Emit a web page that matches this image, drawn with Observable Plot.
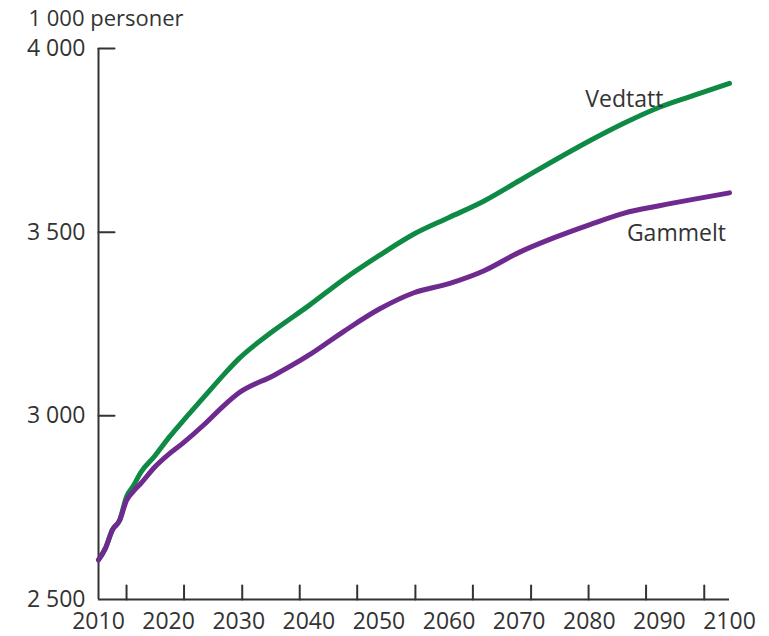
<!DOCTYPE html>
<html>
<head>
<meta charset="utf-8">
<script src="https://cdn.jsdelivr.net/npm/d3@7"></script>
<script src="https://cdn.jsdelivr.net/npm/@observablehq/plot@0.6"></script>
<style>
  html, body { margin: 0; padding: 0; background: #fff; }
  #chart svg { display: block; }
</style>
</head>
<body>
<div id="chart"></div>
<script>
const years    = [2010, 2011, 2012, 2013, 2014, 2015, 2016, 2018, 2020, 2022, 2025, 2028, 2030, 2035, 2040, 2045, 2050, 2055, 2060, 2065, 2070, 2075, 2080, 2085, 2090, 2095, 2100];
const vedtatt  = [2608, 2640, 2690, 2715, 2780, 2810, 2845, 2890, 2940, 2985, 3050, 3115, 3155, 3232, 3300, 3372, 3436, 3495, 3540, 3585, 3640, 3695, 3748, 3797, 3840, 3873, 3905];
const gammelt  = [2608, 2640, 2690, 2715, 2770, 2795, 2815, 2860, 2895, 2925, 2975, 3030, 3062, 3110, 3165, 3230, 3290, 3335, 3360, 3395, 3445, 3485, 3520, 3552, 3572, 3590, 3607];
const seriesNames = ["Vedtatt", "Gammelt"];
const seriesColors = ["#0f8a45", "#6f2a8f"];
const yTicks = [2500, 3000, 3500, 4000];
const yTickMarks = [3000, 3500, 4000];
const xLabels = [2010, 2020, 2030, 2040, 2050, 2060, 2070, 2080, 2090, 2100];
const xTickMarks = [2014.0, 2022.2, 2030.5, 2038.7, 2046.9, 2055.2, 2063.4, 2071.7, 2079.9, 2088.1, 2096.4];
const yUnit = "1 000 personer";

const rows = [];
years.forEach((y, i) => {
  rows.push({year: y, value: vedtatt[i], series: seriesNames[0]});
  rows.push({year: y, value: gammelt[i], series: seriesNames[1]});
});
const vLabel = [{year: 2085, value: vedtatt[years.indexOf(2085)], text: seriesNames[0]}];
const gLabel = [{year: 2090, value: gammelt[years.indexOf(2090)], text: seriesNames[1]}];

const fmt = d => d3.format(",")(d).replace(/,/g, " ");
const tickShape = {draw(ctx, l) { ctx.moveTo(0, 0); ctx.lineTo(0, -l); }};
const ink = "#333333";

const chart = Plot.plot({
  width: 769,
  height: 636,
  marginLeft: 98,
  marginRight: 40,
  marginTop: 48,
  marginBottom: 37,
  style: {fontFamily: "'Open Sans', sans-serif", fontSize: "23px", color: ink, background: "#fff"},
  x: {domain: [2010, 2100]},
  y: {domain: [2500, 4000]},
  color: {domain: seriesNames, range: seriesColors},
  marks: [
    Plot.axisY(yTicks, {tickSize: 0, tickPadding: 13, tickFormat: fmt, label: null, fontSize: 23, fill: ink}),
    Plot.axisX(xLabels, {tickSize: 0, tickPadding: 13, tickFormat: d => String(d), label: null, fontSize: 23, fill: ink}),
    Plot.vector(yTickMarks, {x: () => 2010, y: d => d, length: 16, rotate: 90, anchor: "start", shape: tickShape, stroke: ink, strokeWidth: 2}),
    Plot.vector(xTickMarks, {x: d => d, y: () => 2500, length: 14, rotate: 0, anchor: "start", shape: tickShape, stroke: ink, strokeWidth: 2}),
    Plot.ruleX([2010], {stroke: ink, strokeWidth: 2}),
    Plot.ruleY([2500], {stroke: ink, strokeWidth: 2}),
    Plot.line(rows, {x: "year", y: "value", z: "series", stroke: "series", strokeWidth: 5, curve: "monotone-x", strokeLinecap: "round"}),
    Plot.text(vLabel, {x: "year", y: "value", text: "text", dx: 0, dy: -23, fontSize: 23, fill: ink}),
    Plot.text(gLabel, {x: "year", y: "value", text: "text", dx: 17, dy: 28, fontSize: 23, fill: ink}),
    Plot.text([yUnit], {frameAnchor: "top-left", text: d => d, textAnchor: "start", lineAnchor: "bottom", dx: -70, dy: -23, fontSize: 22, fill: ink})
  ]
});
document.getElementById("chart").append(chart);
</script>
</body>
</html>
